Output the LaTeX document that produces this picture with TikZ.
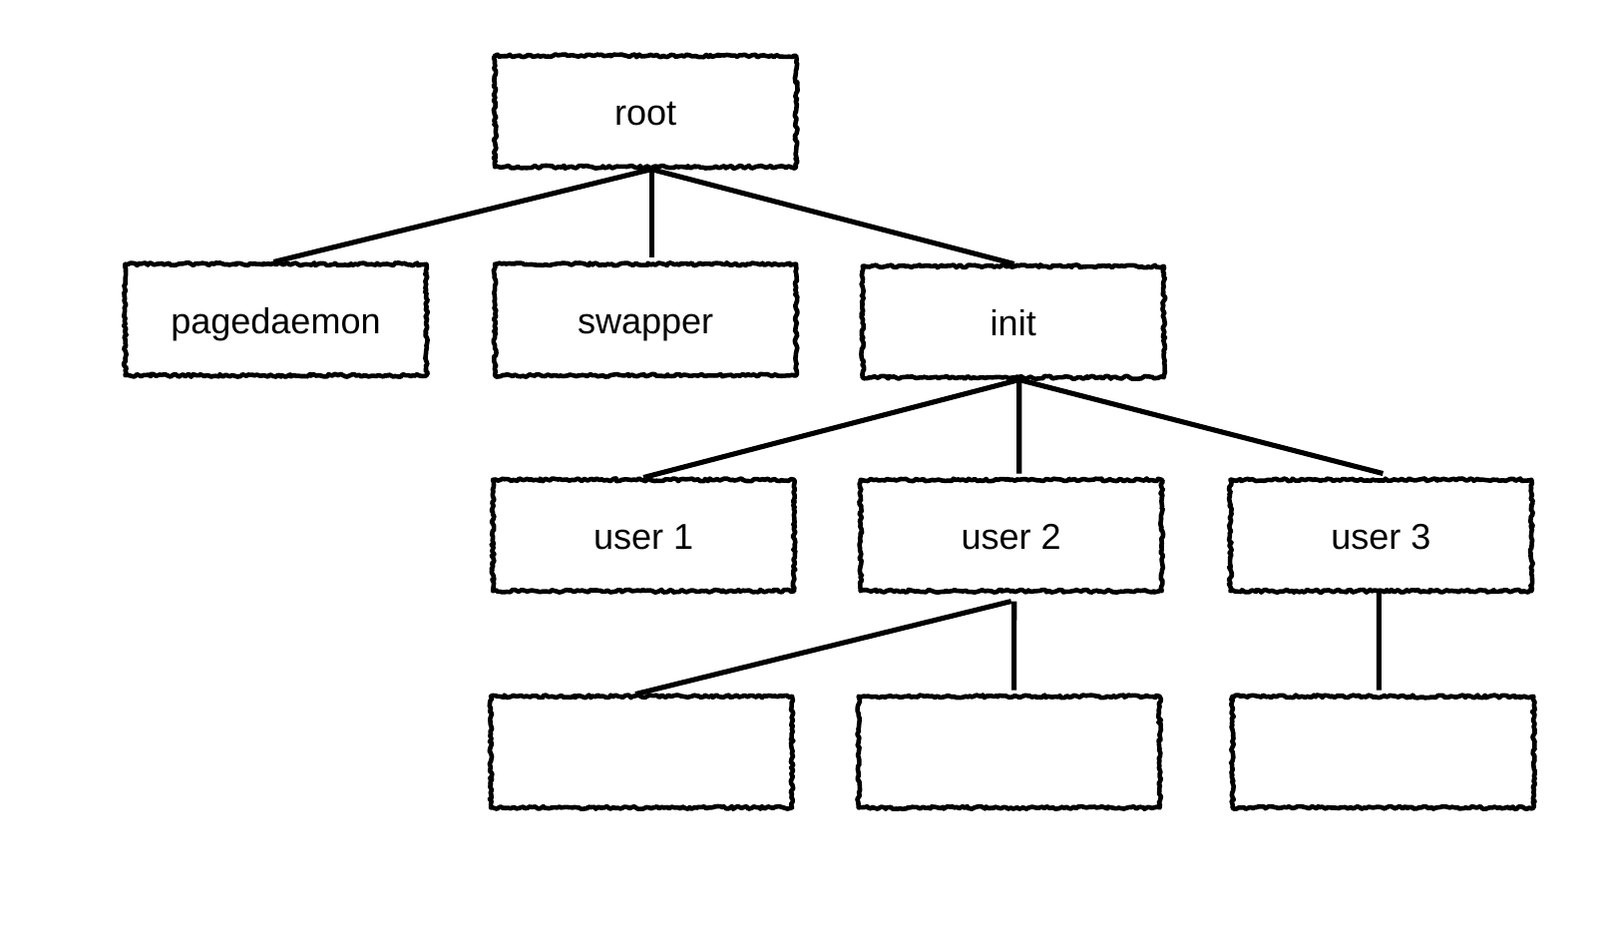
\documentclass[tikz,border=0pt]{standalone}
\usepackage{fontspec}
\setmainfont{Liberation Sans}
\usetikzlibrary{decorations.pathmorphing}

\tikzset{
	proc/.style={
		draw, line width=2.6pt, line join=round,
		decorate, decoration={random steps, segment length=1.4pt, amplitude=0.8pt},
		minimum width=6.04cm, minimum height=2.23cm,
		text height=18pt, text depth=2pt,
		font=\fontsize{20.5}{24}\selectfont
	},
	link/.style={line width=2.9pt}
}

\begin{document}
\begin{tikzpicture}[x=1.024cm, y=1.024cm]
		\useasboundingbox (0, 0) rectangle (31.33, -18.40);

		% processes
		\node[proc] (root) at (12.64, -2.18) {root};
		\node[proc] (pagedaemon) at (5.40, -6.26) {pagedaemon};
		\node[proc] (swapper) at (12.64, -6.26) {swapper};
		\node[proc] (init) at (19.84, -6.30) {init};
		\node[proc] (user1) at (12.60, -10.48) {user 1};
		\node[proc] (user2) at (19.80, -10.48) {user 2};
		\node[proc] (user3) at (27.04, -10.48) {user 3};
		\node[proc] (child1) at (12.56, -14.72) {};
		\node[proc] (child2) at (19.76, -14.72) {};
		\node[proc] (child3) at (27.08, -14.72) {};

		\coordinate (rootj) at ([xshift=0.12cm]root.south);
		\coordinate (initj) at ([xshift=0.12cm]init.south);
		\coordinate (user2j) at ([yshift=-0.16cm]user2.south);
		\coordinate (user3j) at ([xshift=-0.04cm, yshift=0.06cm]user3.south);

		\draw[link] (rootj) -- ([xshift=-0.04cm]pagedaemon.north);
		\draw[link] (rootj) -- ([xshift=0.12cm, yshift=0.08cm]swapper.north);
		\draw[link] (rootj) -- ([xshift=0.02cm]init.north);

		\draw[link] (initj) -- (user1.north);
		\draw[link] (initj) -- ([xshift=0.16cm, yshift=0.08cm]user2.north);
		\draw[link] (initj) -- ([xshift=0.04cm, yshift=0.08cm]user3.north);

		\draw[link] (user2j) -- ([xshift=-0.12cm]child1.north);
		\draw[link] ([xshift=0.06cm]user2j) -- ([xshift=0.1cm, yshift=0.08cm]child2.north);
		\draw[link] (user3j) -- ([xshift=-0.08cm, yshift=0.08cm]child3.north);
	\end{tikzpicture}
\end{document}
